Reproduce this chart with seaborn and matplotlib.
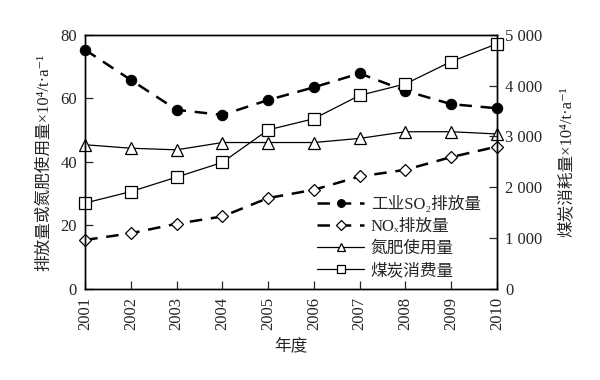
import matplotlib
matplotlib.use("Agg")
import matplotlib.pyplot as plt
from matplotlib.ticker import FuncFormatter
import seaborn as sns
import pandas as pd

years = [2001, 2002, 2003, 2004, 2005, 2006, 2007, 2008, 2009, 2010]
so2 = [75.3, 65.8, 56.4, 54.8, 59.5, 63.5, 67.9, 62.4, 58.2, 56.9]
nox = [15.4, 17.5, 20.5, 22.8, 28.6, 31.2, 35.4, 37.5, 41.5, 44.8]
fert = [45.4, 44.3, 43.8, 46.1, 46.1, 46.1, 47.4, 49.5, 49.5, 48.8]
coal = [1690, 1915, 2200, 2490, 3130, 3350, 3810, 4035, 4475, 4825]

labels = ["工业SO₂排放量", "NOₓ排放量", "氮肥使用量", "煤炭消费量"]

df = pd.DataFrame({"year": years, "so2": so2, "nox": nox, "fert": fert, "coal": coal})

sns.set_style("ticks")
plt.rcParams['font.family'] = ['Liberation Serif', 'Noto Sans CJK SC', 'DejaVu Sans']
plt.rcParams['font.size'] = 11

fig = plt.figure(figsize=(6, 3.8), dpi=100)
ax = fig.add_axes([0.142, 0.24, 0.686, 0.668])
ax2 = ax.twinx()

mk = dict(color="black", markerfacecolor="white", markeredgecolor="black", markeredgewidth=0.9)
sns.lineplot(data=df, x="year", y="so2", ax=ax, marker="o", markersize=7.5, linewidth=1.8,
             color="black", markerfacecolor="black", markeredgecolor="black",
             dashes=False, label=labels[0], legend=False)
ax.lines[-1].set_dashes([5, 3.5])
sns.lineplot(data=df, x="year", y="nox", ax=ax, marker="D", markersize=6.3, linewidth=1.8,
             label=labels[1], legend=False, **mk)
ax.lines[-1].set_dashes([5, 3.5])
sns.lineplot(data=df, x="year", y="fert", ax=ax, marker="^", markersize=8.5, linewidth=0.9,
             label=labels[2], legend=False, **mk)
sns.lineplot(data=df, x="year", y="coal", ax=ax2, marker="s", markersize=8, linewidth=0.9,
             label=labels[3], legend=False, **mk)

for a in (ax, ax2):
    for l in a.lines:
        l.set_clip_on(False)

ax.set_xlim(2001, 2010)
ax.set_ylim(0, 80)
ax2.set_ylim(0, 5000)
ax.set_xticks(years)
ax.set_xticklabels([str(y) for y in years], rotation=90)
ax.set_yticks([0, 20, 40, 60, 80])
ax2.set_yticks([0, 1000, 2000, 3000, 4000, 5000])
ax2.yaxis.set_major_formatter(FuncFormatter(lambda v, p: f"{int(v):,}".replace(",", " ")))

for a in (ax, ax2):
    a.tick_params(direction="in", length=6, width=0.9, labelsize=12, pad=6)
    for s in a.spines.values():
        s.set_visible(True)
        s.set_linewidth(1.0)
        s.set_color("black")

ax.set_xlabel("年度", fontsize=12, labelpad=6)
ax.set_ylabel("排放量或氮肥使用量×10⁴/t·a⁻¹", fontsize=12, labelpad=6)
ax2.set_ylabel("煤炭消耗量×10⁴/t·a⁻¹", fontsize=12, labelpad=12)

h1, l1 = ax.get_legend_handles_labels()
h2, l2 = ax2.get_legend_handles_labels()
leg = ax2.legend(h1 + h2, l1 + l2, loc="lower right", bbox_to_anchor=(0.985, 0.0),
                 frameon=False, fontsize=12, handlelength=2.8, labelspacing=0.35,
                 handletextpad=0.4, borderaxespad=0.2, markerscale=0.75)

fig.savefig("out.png", dpi=100)
